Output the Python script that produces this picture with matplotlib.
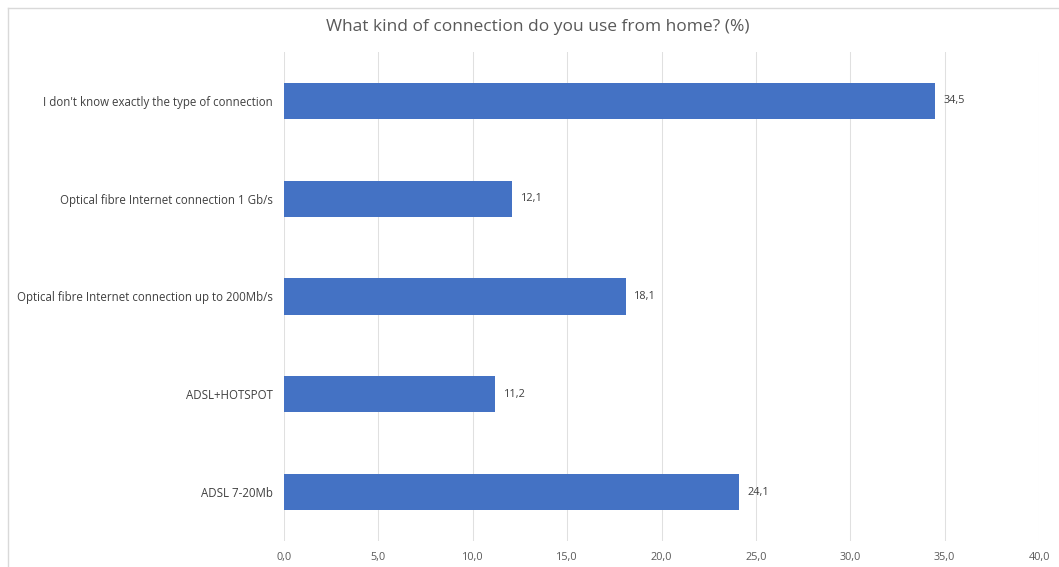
import numpy as np
from matplotlib import pyplot as plt
from matplotlib.lines import Line2D

categories = ['ADSL 7-20Mb', 'ADSL+HOTSPOT',
              'Optical fibre Internet connection up to 200Mb/s',
              'Optical fibre Internet connection 1 Gb/s',
              "I don't know exactly the type of connection"]
values = [24.1, 11.2, 18.1, 12.1, 34.5]
xticks = [0, 5, 10, 15, 20, 25, 30, 35, 40]
title = 'What kind of connection do you use from home? (%)'

plt.rcParams['font.family'] = ['Open Sans', 'DejaVu Sans']

W, H = 1059, 567
fig = plt.figure(figsize=(W / 100, H / 100), dpi=100)
# plot area in pixels: x 284..1039, y 52..541
ax = fig.add_axes([284 / W, 1 - 541 / H, (1039 - 284) / W, (541 - 52) / H])

y = np.arange(len(categories))
ax.barh(y, values, height=0.37, color='#4472C4', zorder=3)

for yi, v in zip(y, values):
    ax.text(v + 0.45, yi, f'{v:.1f}'.replace('.', ','), va='center', ha='left',
            fontsize=7.8, color='#404040')

ax.set_xlim(0, 40)
ax.set_ylim(-0.5, len(categories) - 0.5)
ax.set_xticks(xticks)
ax.set_xticklabels([f'{t:.1f}'.replace('.', ',') for t in xticks], fontsize=7.8, color='#595959')
ax.set_yticks(y)
ax.set_yticklabels(categories, fontsize=8.3, color='#404040')
ax.tick_params(length=0, pad=8)
ax.tick_params(axis='y', pad=8)
ax.xaxis.grid(True, color='#e0e0e0', linewidth=0.75, zorder=0)
for s in ax.spines.values():
    s.set_visible(False)

fig.text(538 / W, 1 - 27 / H, title, ha='center', va='center', fontsize=12.5, color='#595959')

# chart border (top and left)
fig.add_artist(Line2D([8 / W, 1], [1 - 8 / H, 1 - 8 / H], transform=fig.transFigure,
                      color='#d9d9d9', linewidth=1))
fig.add_artist(Line2D([8 / W, 8 / W], [0, 1 - 8 / H], transform=fig.transFigure,
                      color='#d9d9d9', linewidth=1))

fig.savefig('out.png', dpi=100)
